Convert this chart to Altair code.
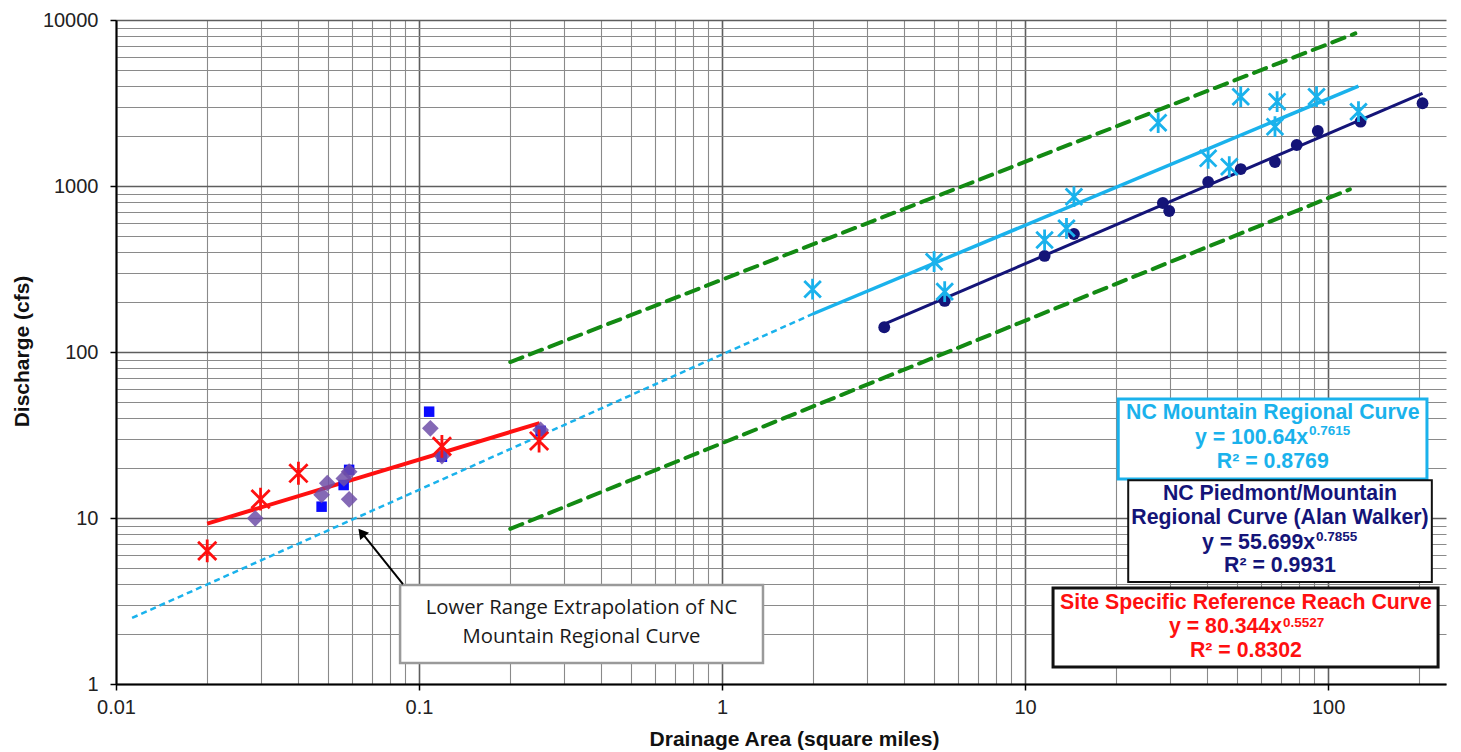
import altair as alt
import pandas as pd

# ---------------- data ----------------
# NC Piedmont/Mountain (Alan Walker) data - navy circles
walker_x = [3.43, 5.43, 11.6, 14.5, 28.5, 29.9, 40.2, 51.5, 66.8, 78.8, 92.5, 128, 205]
walker_y = [141, 203, 379, 514, 790, 707, 1057, 1265, 1395, 1766, 2145, 2440, 3150]

# NC Mountain regional data - cyan stars
mtn_x = [1.99, 5.01, 5.43, 11.6, 13.7, 14.5, 27.5, 40.2, 47.2, 51.5, 66.8, 67.9, 91.6, 126]
mtn_y = [239, 350, 231, 473, 556, 862, 2405, 1468, 1307, 3452, 2276, 3221, 3452, 2803]

# Site specific reference reach - red stars
site_x = [0.02, 0.03, 0.04, 0.119, 0.249]
site_y = [6.33, 13.0, 18.6, 27.0, 29.1]

# Other small-watershed data - purple diamonds
purple_x = [0.0288, 0.0477, 0.0498, 0.0588, 0.0565, 0.0588, 0.109, 0.119, 0.252]
purple_y = [9.96, 13.8, 16.2, 19.0, 17.3, 12.96, 34.7, 23.6, 33.9]

# blue squares
blue_x = [0.0477, 0.0564, 0.0588, 0.108, 0.119, 0.252]
blue_y = [11.7, 15.8, 19.5, 43.7, 23.4, 33.5]

# fitted curves (end points)
walker_fit_x = [3.43, 205]
walker_fit_y = [147, 3620]
mtn_fit_x = [2.0, 126]
mtn_fit_y = [170, 4000]
mtn_ext_x = [0.0113, 2.0]
mtn_ext_y = [2.5, 170]
site_fit_x = [0.02, 0.25]
site_fit_y = [9.25, 37.3]
band_hi_x = [0.2, 123]
band_hi_y = [87, 8300]
band_lo_x = [0.2, 118]
band_lo_y = [8.6, 955]

x_decades = [0.01, 0.1, 1, 10, 100]
y_decades = [1, 10, 100, 1000, 10000]

# ---------------- styles ----------------
CYAN = "#1ab2ec"
NAVY = "#141478"
PURPLE = "#6f4fa8"
BLUE = "#0a0aff"
RED = "#ff1010"
GREEN = "#138a13"
FONT = "Liberation Sans"

x_grid = [m * 10.0 ** e for e in range(-2, 3) for m in range(1, 10) if m * 10.0 ** e <= 245]
y_grid = [m * 10 ** e for e in range(0, 4) for m in range(1, 10)] + [10000]

xtest = "indexof([0.01,0.1,1,10,100], datum.value) >= 0"
ytest = "indexof([1,10,100,1000,10000], datum.value) >= 0"

xscale = alt.Scale(type="log", domain=[0.01, 245], nice=False)
yscale = alt.Scale(type="log", domain=[1, 10000], nice=False)

xaxis = alt.Axis(
    values=x_grid,
    labelExpr=f"{xtest} ? '' + datum.value : ''",
    grid=True,
    gridColor={"condition": {"test": xtest, "value": "#5e5e5e"}, "value": "#8a8a8a"},
    gridWidth={"condition": {"test": xtest, "value": 1.6}, "value": 1.1},
    tickColor="black",
    tickOpacity={"condition": {"test": xtest, "value": 1}, "value": 0},
    tickSize=6,
    tickWidth=1.5,
    domainColor="black",
    domainWidth=2,
    labelFont=FONT,
    labelFontSize=20,
    labelColor="#222222",
    labelPadding=7,
    labelFlush=False,
    labelOverlap=False,
    title="Drainage Area (square miles)",
    titleFont=FONT,
    titleFontSize=21,
    titleFontWeight="bold",
    titleColor="#111111",
    titleX=678,
    titleY=61,
    titleBaseline="alphabetic",
)

yaxis = alt.Axis(
    values=y_grid,
    labelExpr=f"{ytest} ? '' + datum.value : ''",
    grid=True,
    gridColor={"condition": {"test": ytest, "value": "#5e5e5e"}, "value": "#8a8a8a"},
    gridWidth={"condition": {"test": ytest, "value": 1.6}, "value": 1.1},
    tickColor="black",
    tickOpacity={"condition": {"test": ytest, "value": 1}, "value": 0},
    tickSize=6,
    tickWidth=1.5,
    domainColor="black",
    domainWidth=2,
    labelFont=FONT,
    labelFontSize=20,
    labelColor="#222222",
    labelPadding=12,
    labelFlush=False,
    labelOverlap=False,
    title="Discharge (cfs)",
    titleFont=FONT,
    titleFontSize=21,
    titleFontWeight="bold",
    titleColor="#111111",
    titleAngle=270,
    titleX=-94,
    titleY=331,
    titleAlign="center",
    titleBaseline="middle",
)

X = alt.X("x:Q", scale=xscale, axis=xaxis)
Y = alt.Y("y:Q", scale=yscale, axis=yaxis)


def df(xs, ys, **extra):
    d = pd.DataFrame({"x": xs, "y": ys})
    for k, v in extra.items():
        d[k] = v
    return d


STAR = "M-0.8,-0.8L0.8,0.8M-0.8,0.8L0.8,-0.8M0,-1L0,1"

bands = pd.concat([df(band_hi_x, band_hi_y, s="hi"), df(band_lo_x, band_lo_y, s="lo")])

layers = []
layers.append(
    alt.Chart(bands).mark_line(color=GREEN, strokeWidth=4, strokeDash=[13, 8], strokeCap="round")
    .encode(x=X, y=Y, detail="s:N")
)
layers.append(
    alt.Chart(df(mtn_ext_x, mtn_ext_y)).mark_line(color=CYAN, strokeWidth=2.5, strokeDash=[6, 4])
    .encode(x=X, y=Y)
)
layers.append(
    alt.Chart(df(mtn_fit_x, mtn_fit_y)).mark_line(color=CYAN, strokeWidth=3.5).encode(x=X, y=Y)
)
layers.append(
    alt.Chart(df(walker_fit_x, walker_fit_y)).mark_line(color=NAVY, strokeWidth=3).encode(x=X, y=Y)
)
layers.append(
    alt.Chart(df(site_fit_x, site_fit_y)).mark_line(color=RED, strokeWidth=4).encode(x=X, y=Y)
)
layers.append(
    alt.Chart(df(walker_x, walker_y)).mark_point(shape="circle", filled=True, size=140, color=NAVY, opacity=1)
    .encode(x=X, y=Y)
)
layers.append(
    alt.Chart(df(mtn_x, mtn_y)).mark_point(shape=STAR, filled=False, size=430, strokeWidth=2.8, color=CYAN, opacity=1)
    .encode(x=X, y=Y)
)
layers.append(
    alt.Chart(df(blue_x, blue_y)).mark_point(shape="square", filled=True, size=110, color=BLUE, opacity=1)
    .encode(x=X, y=Y)
)
layers.append(
    alt.Chart(df(purple_x, purple_y)).mark_point(shape="diamond", filled=True, size=280, color=PURPLE, opacity=0.85)
    .encode(x=X, y=Y)
)
layers.append(
    alt.Chart(df(site_x, site_y)).mark_point(shape=STAR, filled=False, size=520, strokeWidth=2.8, color=RED, opacity=1)
    .encode(x=X, y=Y)
)

# ---------------- annotation boxes (data coordinates) ----------------
boxes = pd.DataFrame({
    "x": [0.0866, 20.3, 21.9, 12.37],
    "x2": [1.365, 212, 220, 230.7],
    "y": [3.95, 52.1, 16.9, 3.79],
    "y2": [1.338, 17.2, 4.12, 1.266],
    "stroke": ["#9a9a9a", CYAN, "#111111", "#111111"],
    "sw": [2.5, 3, 2, 3],
})
layers.append(
    alt.Chart(boxes).mark_rect(fill="white")
    .encode(
        x=X, x2="x2:Q", y=Y, y2="y2:Q",
        stroke=alt.Stroke("stroke:N", scale=None),
        strokeWidth=alt.StrokeWidth("sw:Q", scale=None),
    )
)

# arrow
layers.append(
    alt.Chart(df([0.0885, 0.0646], [4.0, 8.18])).mark_line(color="black", strokeWidth=2).encode(x=X, y=Y)
)
layers.append(
    alt.Chart(df([0.0646], [8.18])).mark_point(shape="triangle-up", filled=True, size=130, color="black",
                                               opacity=1, angle=321).encode(x=X, y=Y)
)

# annotation text
note = df([0.3437, 0.3437], [2.858, 1.928],
          label=["Lower Range Extrapolation of NC", "Mountain Regional Curve"])
layers.append(
    alt.Chart(note).mark_text(font="Open Sans", fontSize=20.3, color="#1a1a1a", align="center", baseline="middle")
    .encode(x=X, y=Y, text="label:N")
)

# legend texts
centered = pd.DataFrame({
    "x": [65.7, 65.7, 69.4, 69.4, 69.4, 53.56, 53.56],
    "y": [42.9, 21.7, 13.95, 10.0, 5.14, 3.08, 1.58],
    "label": ["NC Mountain Regional Curve", "R\u00b2 = 0.8769",
              "NC Piedmont/Mountain", "Regional Curve (Alan Walker)", "R\u00b2 = 0.9931",
              "Site Specific Reference Reach Curve", "R\u00b2 = 0.8302"],
    "color": [CYAN, CYAN, NAVY, NAVY, NAVY, RED, RED],
})
layers.append(
    alt.Chart(centered).mark_text(font=FONT, fontSize=21.3, fontWeight="bold", align="center", baseline="middle")
    .encode(x=X, y=Y, text="label:N", color=alt.Color("color:N", scale=None))
)
eq_main = pd.DataFrame({
    "x": [85.9, 90.6, 70.5],
    "y": [30.3, 7.07, 2.205],
    "label": ["y = 100.64x", "y = 55.699x", "y = 80.344x"],
    "color": [CYAN, NAVY, RED],
})
layers.append(
    alt.Chart(eq_main).mark_text(font=FONT, fontSize=21.3, fontWeight="bold", align="right", baseline="middle")
    .encode(x=X, y=Y, text="label:N", color=alt.Color("color:N", scale=None))
)
eq_sup = pd.DataFrame({
    "x": [85.9, 90.6, 70.5],
    "y": [33.4, 7.68, 2.33],
    "label": ["0.7615", "0.7855", "0.5527"],
    "color": [CYAN, NAVY, RED],
})
layers.append(
    alt.Chart(eq_sup).mark_text(font=FONT, fontSize=13.5, fontWeight="bold", align="left", baseline="middle", dx=1)
    .encode(x=X, y=Y, text="label:N", color=alt.Color("color:N", scale=None))
)

chart = (
    alt.layer(*layers)
    .properties(
        width=1330,
        height=664,
        padding={"left": 108, "top": 12, "right": 2, "bottom": 70},
        autosize=alt.AutoSizeParams(type="none"),
        background="white",
    )
    .configure_view(stroke=None)
)

chart.save("out.html", embed_options={"renderer": "svg", "actions": False})
